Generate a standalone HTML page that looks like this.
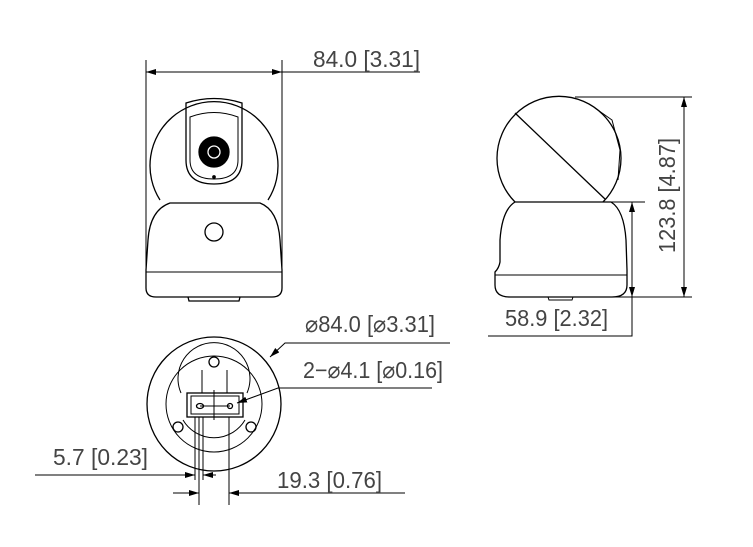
<!DOCTYPE html><html><head><style>body{margin:0;background:#fff}svg{display:block}text{font-family:"Liberation Sans",sans-serif;font-size:23px;fill:#444}</style></head><body>
<svg width="753" height="547" viewBox="0 0 753 547" xmlns="http://www.w3.org/2000/svg">
<defs><marker id="a" viewBox="0 0 10 6" refX="10" refY="3" markerWidth="10" markerHeight="6" orient="auto-start-reverse" markerUnits="userSpaceOnUse"><path d="M0,0L10,3L0,6z" fill="#000"/></marker></defs>
<g fill="none" stroke="#000" stroke-width="1.3">
<!-- front view -->
<line x1="146" y1="60" x2="146" y2="275" stroke-width="1"/><line x1="282" y1="60" x2="282" y2="275" stroke-width="1"/>
<line x1="146" y1="72" x2="282" y2="72" marker-start="url(#a)" marker-end="url(#a)" stroke-width="1"/>
<line x1="282" y1="72" x2="420" y2="72" stroke-width="1"/>
<path d="M160,200 A64,64 0 1 1 268,200"/>
<path d="M186,103 Q214,94 242,103 L242,160 Q242,184 214,184 Q186,184 186,160 Z"/>
<path d="M190,117 Q214,108 238,117 L238,160 Q238,179 214,179 Q190,179 190,160 Z" stroke-width="1"/>
<circle cx="214" cy="152" r="15" fill="#000"/><circle cx="214" cy="152" r="6" stroke="#fff" fill="#000"/>
<circle cx="214" cy="177" r="1.2" fill="#000"/>
<path d="M170,203 L260,203 Q278,210 280,240 L282,270 L282,288 Q282,297 272,297 L156,297 Q146,297 146,288 L146,270 L148,240 Q150,210 170,203 Z"/>
<line x1="146" y1="272" x2="282" y2="272" stroke-width="1"/>
<circle cx="214" cy="232" r="9"/>
<path d="M188,297 L189,301 L239,301 L240,297"/>
<!-- side view -->
<path d="M515,202 A62,62 0 1 1 603,202"/>
<path d="M595,108 L612,120 L620,150 L618,180" stroke-width="1"/>
<line x1="515" y1="113" x2="605" y2="199"/>
<path d="M515,202 L611,202 Q624,210 626,240 L627,270 L627,285 Q627,297 612,297 L510,297 Q495,297 495,285 L495,272 Q499,268 500,262 L500,240 Q502,210 515,202 Z"/>
<line x1="495" y1="275" x2="627" y2="275" stroke-width="1"/>
<path d="M548,297 L549,300 L572,300 L573,297" stroke-width="1"/>
<g stroke-width="1">
<line x1="575" y1="97" x2="692" y2="97"/><line x1="580" y1="297" x2="692" y2="297"/>
<line x1="684" y1="97" x2="684" y2="297" marker-start="url(#a)" marker-end="url(#a)"/>
<line x1="605" y1="202" x2="645" y2="202"/>
<line x1="632" y1="202" x2="632" y2="297" marker-start="url(#a)" marker-end="url(#a)"/>
<polyline points="632,297 632,336 488,336"/>
</g>
<!-- bottom view -->
<circle cx="214" cy="404" r="67"/>
<circle cx="214" cy="404" r="48" stroke-width="1"/>
<path d="M181,393 A36,36 0 1 1 247,393" stroke-width="1"/>
<path d="M183,420 A36,36 0 0 0 245,420" stroke-width="1"/>
<line x1="202" y1="370" x2="202" y2="393" stroke-width="1"/>
<line x1="227" y1="370" x2="227" y2="393" stroke-width="1"/>
<circle cx="214" cy="362" r="5"/><circle cx="178" cy="427" r="5"/><circle cx="251" cy="427" r="5"/>
<rect x="187" y="393" width="56" height="24"/><rect x="191" y="396" width="48" height="18" stroke-width="1"/>
<ellipse cx="200" cy="406" rx="3.5" ry="2.5"/><circle cx="230" cy="406" r="2.5"/>
<line x1="200" y1="406" x2="230" y2="406" stroke-width="1"/>
<line x1="214" y1="390" x2="214" y2="420" stroke-width="1"/>
<g stroke-width="1">
<line x1="195" y1="417" x2="195" y2="480"/><line x1="199" y1="417" x2="199" y2="505"/><line x1="203" y1="417" x2="203" y2="480"/><line x1="229" y1="417" x2="229" y2="505"/>
<line x1="35" y1="475" x2="195" y2="475" marker-end="url(#a)"/>
<line x1="216" y1="475" x2="203" y2="475" marker-end="url(#a)"/>
<line x1="173" y1="493" x2="199" y2="493" marker-end="url(#a)"/>
<line x1="405" y1="493" x2="229" y2="493" marker-end="url(#a)"/>
<polyline points="450,343 285,343 270,357" marker-end="url(#a)"/>
<polyline points="432,388 278,388 237,403" marker-end="url(#a)"/>
</g>
</g>
<text x="313" y="67" textLength="107" lengthAdjust="spacingAndGlyphs">84.0 [3.31]</text>
<text x="505" y="326" textLength="103" lengthAdjust="spacingAndGlyphs">58.9 [2.32]</text>
<text transform="translate(675,253) rotate(-90)" textLength="115" lengthAdjust="spacingAndGlyphs">123.8 [4.87]</text>
<text x="305" y="332" textLength="130" lengthAdjust="spacingAndGlyphs">⌀84.0 [⌀3.31]</text>
<text x="303" y="378" textLength="140" lengthAdjust="spacingAndGlyphs">2−⌀4.1 [⌀0.16]</text>
<text x="53" y="465" textLength="95" lengthAdjust="spacingAndGlyphs">5.7 [0.23]</text>
<text x="277" y="488" textLength="105" lengthAdjust="spacingAndGlyphs">19.3 [0.76]</text>
</svg></body></html>
